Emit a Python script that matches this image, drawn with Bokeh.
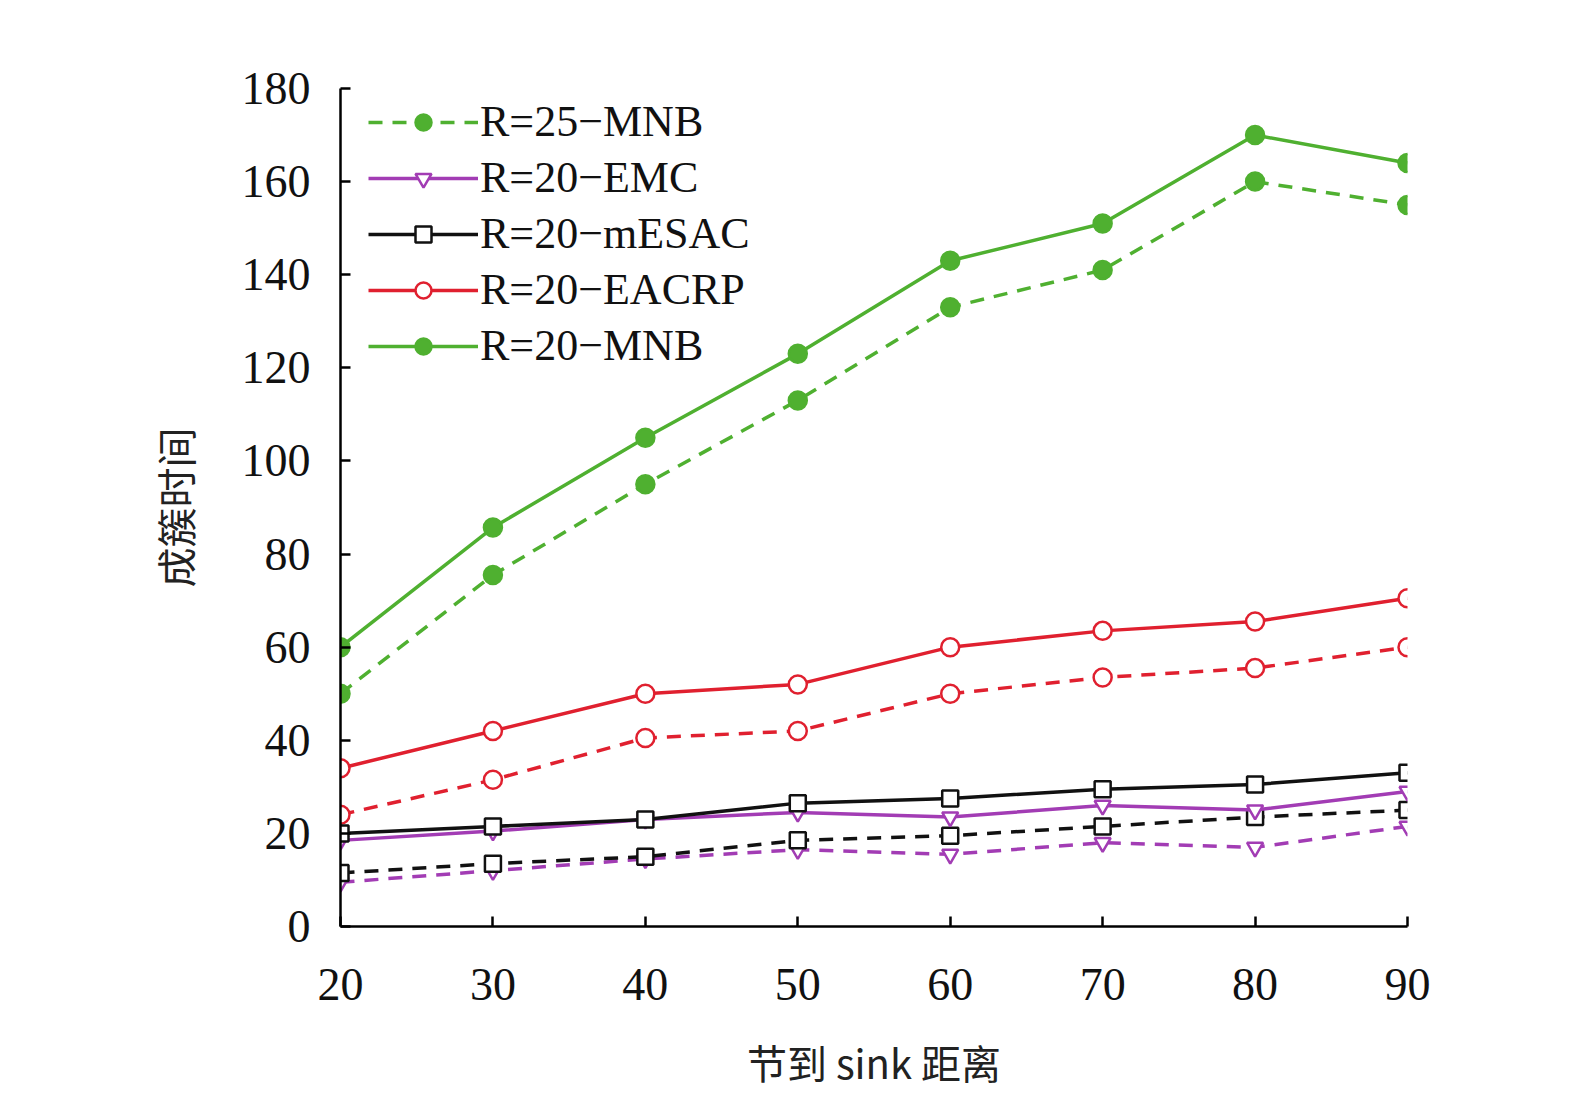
from bokeh.plotting import figure
from bokeh.models import Legend, LegendItem, Range1d, FixedTicker
from bokeh.embed import file_html
from bokeh.resources import INLINE

x = [20, 30, 40, 50, 60, 70, 80, 90]
r20_mnb = [60, 85.7, 105, 123, 143, 151, 170, 164]
r25_mnb = [50, 75.5, 95, 113, 133, 141, 160, 155]
r20_eacrp = [34, 42, 50, 52, 60, 63.5, 65.5, 70.5]
r25_eacrp = [24, 31.5, 40.5, 42, 50, 53.5, 55.5, 60]
r20_mesac = [20, 21.5, 23, 26.5, 27.5, 29.5, 30.5, 33]
r25_mesac = [11.5, 13.5, 15, 18.5, 19.5, 21.5, 23.5, 25]
r20_emc = [18.5, 20.5, 23, 24.5, 23.5, 26, 25, 29]
r25_emc = [9.5, 12, 14.5, 16.5, 15.5, 18, 17, 21.5]

PURPLE, BLACK, RED, GREEN = "#a23cb4", "#111111", "#e0202f", "#4fb030"
FONT = "Liberation Serif"

p = figure(frame_width=1067, frame_height=838, min_border_left=340, min_border_top=88,
           min_border_right=130, min_border_bottom=165,
           x_range=Range1d(20, 90), y_range=Range1d(0, 180),
           output_backend="svg", toolbar_location=None)
p.outline_line_color = None
p.grid.grid_line_color = None
for ax in (p.xaxis, p.yaxis):
    ax.major_tick_in = 10
    ax.major_tick_out = 0
    ax.minor_tick_line_color = None
    ax.axis_line_width = 2.5
    ax.major_tick_line_width = 2.5
    ax.major_label_text_font = FONT
    ax.major_label_text_font_size = "46px"
    ax.major_label_text_color = "#111111"
p.xaxis.ticker = FixedTicker(ticks=x)
p.yaxis.ticker = FixedTicker(ticks=list(range(0, 181, 20)))
p.xaxis.major_label_standoff = 42
p.yaxis.major_label_standoff = 30
p.xaxis.axis_label = "节到 sink 距离"
p.yaxis.axis_label = "成簇时间"
for ax in (p.xaxis, p.yaxis):
    ax.axis_label_text_font = "Noto Sans CJK SC"
    ax.axis_label_text_font_style = "normal"
    ax.axis_label_text_font_size = "40px"
    ax.axis_label_text_color = "#222222"
p.xaxis.axis_label_standoff = 30
p.yaxis.axis_label_standoff = 35

series = [
    ("R=25−EMC", r25_emc, PURPLE, "inverted_triangle", True, False),
    ("R=25−mESAC", r25_mesac, BLACK, "square", True, False),
    ("R=25−EACRP", r25_eacrp, RED, "circle", True, False),
    ("R=25−MNB", r25_mnb, GREEN, "circle", True, True),
    ("R=20−EMC", r20_emc, PURPLE, "inverted_triangle", False, False),
    ("R=20−mESAC", r20_mesac, BLACK, "square", False, False),
    ("R=20−EACRP", r20_eacrp, RED, "circle", False, False),
    ("R=20−MNB", r20_mnb, GREEN, "circle", False, True),
]
items = []
for name, ys, col, mk, dashed, filled in series:
    dash = "14 10" if dashed else "solid"
    ln = p.line(x, ys, line_color=col, line_width=3.5, line_dash=dash)
    sz = 18 if mk == "circle" else 16
    sc = p.scatter(x, ys, marker=mk, size=sz, line_color=col, line_width=2.5,
                   fill_color=col if filled else "white")
    items.append(LegendItem(label=name, renderers=[ln, sc]))

leg = Legend(items=items, location=(28, 555), glyph_width=110, glyph_height=40,
             spacing=5, padding=0, margin=0, label_text_font=FONT,
             label_text_font_size="44px", label_text_color="#111111",
             label_height=40, label_standoff=2, background_fill_alpha=0,
             border_line_color=None)
p.add_layout(leg)

open("out.html", "w").write(file_html(p, INLINE))
